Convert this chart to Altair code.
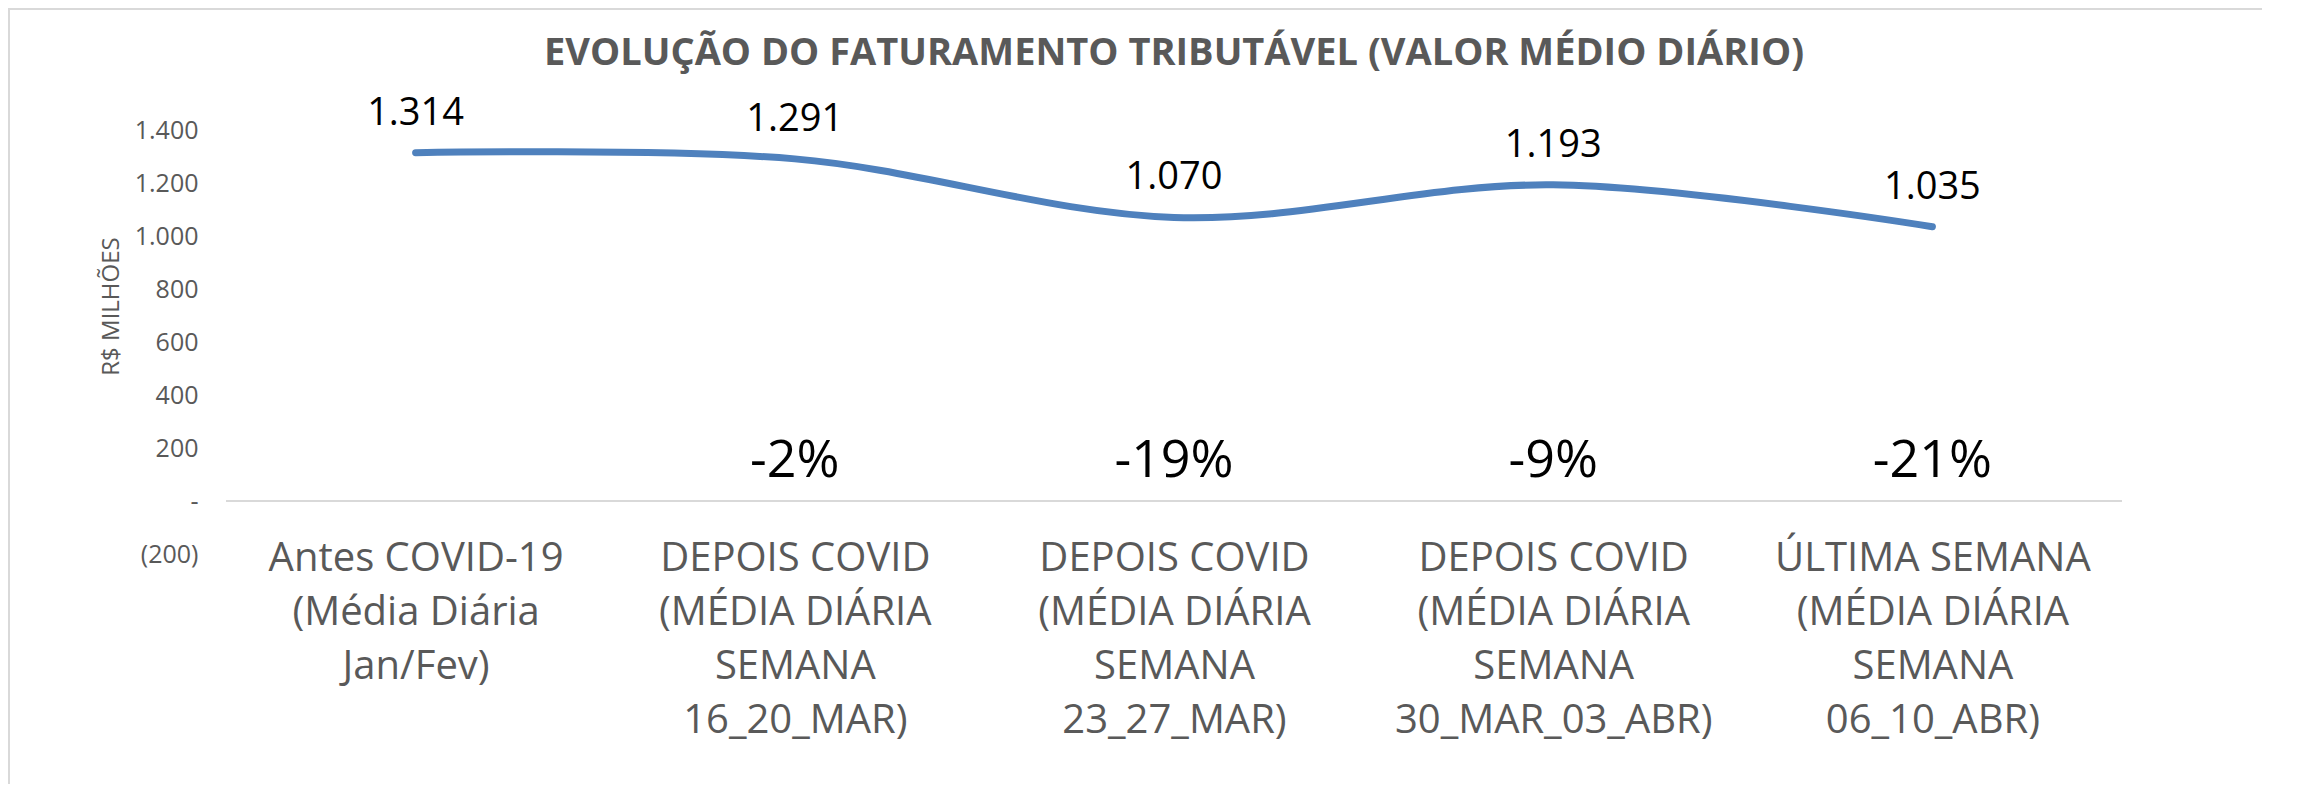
import altair as alt
import pandas as pd

# ---------------- data ----------------
categories = [
    "Antes COVID-19\n(Média Diária\nJan/Fev)",
    "DEPOIS COVID\n(MÉDIA DIÁRIA\nSEMANA\n16_20_MAR)",
    "DEPOIS COVID\n(MÉDIA DIÁRIA\nSEMANA\n23_27_MAR)",
    "DEPOIS COVID\n(MÉDIA DIÁRIA\nSEMANA\n30_MAR_03_ABR)",
    "ÚLTIMA SEMANA\n(MÉDIA DIÁRIA\nSEMANA\n06_10_ABR)",
]
values = [1314, 1291, 1070, 1193, 1035]
value_labels = ["1.314", "1.291", "1.070", "1.193", "1.035"]
pct_labels = ["-2%", "-19%", "-9%", "-21%"]
y_ticks = [-200, 0, 200, 400, 600, 800, 1000, 1200, 1400]

TITLE = "EVOLUÇÃO DO FATURAMENTO TRIBUTÁVEL (VALOR MÉDIO DIÁRIO)"
Y_TITLE = "R$ MILHÕES"

df = pd.DataFrame({"cat": categories, "value": values, "label": value_labels})
df_pct = pd.DataFrame({"cat": categories[1:], "pct": pct_labels})
df_title = pd.DataFrame({"t": [TITLE]})

FONT = "Open Sans"
GRAY = "#595959"
W, H = 1896, 424
PAD_R = 140

x_enc = alt.X(
    "cat:N",
    sort=categories,
    scale=alt.Scale(type="point", padding=0.5),
    axis=alt.Axis(
        title=None,
        orient="bottom",
        domain=False,
        ticks=False,
        labelAngle=0,
        labelFont=FONT,
        labelFontSize=40,
        labelColor=GRAY,
        labelLineHeight=54,
        labelBaseline="top",
        labelPadding=-16,
        labelLimit=0,
        labelOverlap=False,
        labelBound=False,
        labelExpr=r"split(datum.label, '\n')",
    ),
)

y_scale = alt.Scale(domain=[-200, 1400], nice=False, zero=False)

y_enc = alt.Y(
    "value:Q",
    scale=y_scale,
    axis=alt.Axis(
        values=y_ticks,
        title=Y_TITLE,
        titleFont=FONT,
        titleFontSize=24,
        titleFontWeight="normal",
        titleColor=GRAY,
        titleX=-115,
        titleY=176,
        titleAngle=-90,
        titleAlign="center",
        titleBaseline="middle",
        domain=False,
        ticks=False,
        grid=False,
        labelFont=FONT,
        labelFontSize=25,
        labelColor=GRAY,
        labelPadding=28,
        labelFlush=False,
        labelOverlap=False,
        labelBound=False,
        labelExpr="datum.value == 0 ? '-' : (datum.value < 0 ? '(' + replace(format(-datum.value, ',d'), ',', '.') + ')' : replace(format(datum.value, ',d'), ',', '.'))",
    ),
)

base = alt.Chart(df)

zero_rule = base.mark_rule(color="#d9d9d9", strokeWidth=2).encode(
    y=alt.datum(0, scale=y_scale)
)

line = base.mark_line(
    interpolate="cardinal", color="#4F81BD", strokeWidth=7, strokeCap="round"
).encode(x=x_enc, y=y_enc)

value_text = base.mark_text(
    font=FONT, fontSize=38, color="#000000", baseline="middle", align="center", dy=-39
).encode(x=alt.X("cat:N", sort=categories), y=alt.Y("value:Q"), text="label:N")

pct_text = alt.Chart(df_pct).mark_text(
    font=FONT, fontSize=52, color="#000000", baseline="middle", align="center"
).encode(x=alt.X("cat:N", sort=categories), y=alt.datum(150), text="pct:N")

title_text = alt.Chart(df_title).mark_text(
    font=FONT, fontSize=38, fontWeight="bold", color=GRAY, baseline="middle", align="center"
).encode(x=alt.value(W / 2), y=alt.value(-76), text="t:N")

border_top = base.mark_rule(color="#d9d9d9", strokeWidth=2).encode(
    x=alt.value(-218), x2=alt.value(W + PAD_R), y=alt.value(-121)
)
border_left = base.mark_rule(color="#d9d9d9", strokeWidth=2).encode(
    x=alt.value(-217), y=alt.value(-122), y2=alt.value(H + 230)
)

chart = (
    alt.layer(border_top, border_left, zero_rule, line, value_text, pct_text, title_text)
    .properties(
        width=W,
        height=H,
        autosize=alt.AutoSizeParams(type="none"),
        padding={"left": 218, "top": 122, "right": PAD_R, "bottom": 230},
    )
    .configure(background="white", view=alt.ViewConfig(strokeWidth=0, stroke="transparent"))
)

chart.save("out.html", embed_options={"renderer": "svg", "actions": False})
